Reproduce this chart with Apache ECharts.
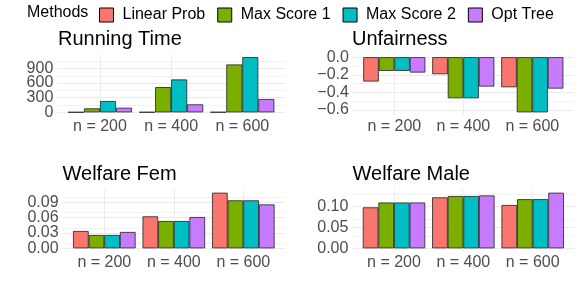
<!DOCTYPE html>
<html><head><meta charset="utf-8">
<script src="https://cdn.jsdelivr.net/npm/echarts@6/dist/echarts.min.js"></script>
<style>html,body{margin:0;padding:0;background:#fff}#c{width:579px;height:297px}</style>
</head><body><div id="c"></div>
<script>
// ---- data ----
const methods = ['Linear Prob', 'Max Score 1', 'Max Score 2', 'Opt Tree'];
const sizes = ['n = 200', 'n = 400', 'n = 600'];
const panelTitles = ['Running Time', 'Unfairness', 'Welfare Fem', 'Welfare Male'];
// rows = methods, columns = sizes
const runningTime = [[3, 4, 5], [82, 518, 982], [232, 675, 1132], [95, 164, 273]];
const unfairness = [[-0.277, -0.194, -0.342], [-0.156, -0.467, -0.627], [-0.156, -0.467, -0.627], [-0.175, -0.334, -0.357]];
const welfareFem = [[0.0339, 0.0626, 0.109], [0.0261, 0.0535, 0.094], [0.0261, 0.0535, 0.094], [0.032, 0.0613, 0.086]];
const welfareMale = [[0.0984, 0.1224, 0.104], [0.110, 0.1256, 0.118], [0.110, 0.1256, 0.118], [0.110, 0.127, 0.1336]];
// tick labels
const runningTimeTicks = [0, 300, 600, 900];
const unfairnessTicks = [0, -0.2, -0.4, -0.6];
const welfareFemTicks = [0, 0.03, 0.06, 0.09];
const welfareMaleTicks = [0, 0.05, 0.10];
// minor grid positions
const runningTimeMinor = [150, 450, 750, 1050];
const unfairnessMinor = [-0.1, -0.3, -0.5];
const welfareFemMinor = [0.015, 0.045, 0.075, 0.105];
const welfareMaleMinor = [0.025, 0.075, 0.125];

// ---- style / layout ----
const colors = ['#F8766D', '#7CAE00', '#00BFC4', '#C77CFF'];
const FONT = 'Liberation Sans, Arial, Helvetica, sans-serif';
const panels = [
  { title: panelTitles[0], rows: runningTime, ticks: runningTimeTicks, minor: runningTimeMinor, dec: 0,
    grid: { left: 57.3, top: 54.4, width: 227.7, height: 60.7 }, tpos: { left: 58, top: 29.5 } },
  { title: panelTitles[1], rows: unfairness, ticks: unfairnessTicks, minor: unfairnessMinor, dec: 1,
    grid: { left: 352.9, top: 54.4, width: 220.8, height: 60.7 }, tpos: { left: 352, top: 29.5 } },
  { title: panelTitles[2], rows: welfareFem, ticks: welfareFemTicks, minor: welfareFemMinor, dec: 2,
    grid: { left: 62.6, top: 189.9, width: 222.4, height: 61.2 }, tpos: { left: 62.5, top: 164.5 } },
  { title: panelTitles[3], rows: welfareMale, ticks: welfareMaleTicks, minor: welfareMaleMinor, dec: 2,
    grid: { left: 352.4, top: 189.9, width: 221.9, height: 61.2 }, tpos: { left: 352.5, top: 164.5 } }
];

function limits(rows) {
  let lo = 0, hi = 0;
  rows.forEach(r => r.forEach(v => { lo = Math.min(lo, v); hi = Math.max(hi, v); }));
  const pad = (hi - lo) * 0.05;
  return [lo - pad, hi + pad];
}
function fmt(dec) {
  return v => {
    const s = Math.abs(v).toFixed(dec);
    return (v < -1e-9 ? '\u2212' : '') + s;
  };
}

const grids = [], xAxes = [], yAxes = [], series = [];
const titles = [{ text: 'Methods', left: 27, top: 5, padding: 0,
  textStyle: { fontSize: 16, fontWeight: 'normal', color: '#000', fontFamily: FONT } }];

function yAxisFor(pi, lim, values, dec) {
  return {
    type: 'value', gridIndex: pi, min: lim[0], max: lim[1], position: 'left', offset: 0,
    axisLine: { show: false }, axisTick: { show: false }, splitLine: { show: false },
    axisLabel: { customValues: values, formatter: fmt(dec),
      showMinLabel: true, showMaxLabel: true, hideOverlap: false,
      color: '#4D4D4D', fontSize: 16, margin: 4, fontFamily: FONT }
  };
}

panels.forEach((p, pi) => {
  grids.push(Object.assign({ containLabel: false }, p.grid));
  const lim = limits(p.rows);
  xAxes.push({
    type: 'value', gridIndex: pi, min: 0.4, max: 3.6,
    axisLine: { show: false }, axisTick: { show: false }, splitLine: { show: false },
    axisLabel: { customValues: [1, 2, 3], formatter: v => sizes[Math.round(v) - 1],
      showMinLabel: true, showMaxLabel: true, hideOverlap: false,
      color: '#4D4D4D', fontSize: 16, margin: 3, fontFamily: FONT }
  });
  // tick labels split across two coincident axes so none get dropped for overlap
  const mainIdx = yAxes.length;
  yAxes.push(yAxisFor(pi, lim, p.ticks.filter((v, i) => i % 2 === 0), p.dec));
  yAxes.push(yAxisFor(pi, lim, p.ticks.filter((v, i) => i % 2 === 1), p.dec));
  titles.push({ text: p.title, left: p.tpos.left, top: p.tpos.top, padding: 0,
    textStyle: { fontSize: 20, fontWeight: 'normal', color: '#000', fontFamily: FONT } });
  // grid lines drawn through the axes' scales
  series.push({
    type: 'line', xAxisIndex: pi, yAxisIndex: mainIdx, data: [], silent: true,
    markLine: {
      silent: true, symbol: 'none', animation: false, z: 1, label: { show: false },
      lineStyle: { type: 'solid', color: '#EBEBEB', width: 1 },
      emphasis: { disabled: true },
      data: [
        ...p.minor.map(v => ({ yAxis: v, lineStyle: { type: 'solid', color: '#F3F3F3', width: 1 } })),
        ...p.ticks.map(v => ({ yAxis: v, lineStyle: { type: 'solid', color: '#EBEBEB', width: 1 } })),
        ...[1, 2, 3].map(v => ({ xAxis: v, lineStyle: { type: 'solid', color: '#EBEBEB', width: 1 } }))
      ]
    }
  });
  methods.forEach((m, mi) => {
    series.push({
      type: 'bar', name: m, xAxisIndex: pi, yAxisIndex: mainIdx, z: 3,
      barWidth: '22.5%', barGap: '0%',
      data: sizes.map((s, si) => [si + 1, p.rows[mi][si]]),
      itemStyle: { color: colors[mi], borderColor: '#222', borderWidth: 0.8 }
    });
  });
});

const chart = echarts.init(document.getElementById('c'), null, { renderer: 'canvas' });
chart.setOption({
  animation: false,
  textStyle: { fontFamily: FONT },
  title: titles,
  legend: {
    data: methods, left: 99, top: 7, padding: 0, itemWidth: 14, itemHeight: 14, itemGap: 12,
    icon: 'rect', selectedMode: false,
    itemStyle: { borderColor: '#000', borderWidth: 1 },
    textStyle: { fontSize: 16, color: '#000', fontFamily: FONT, padding: [0, 0, 0, 4] }
  },
  grid: grids, xAxis: xAxes, yAxis: yAxes, series: series
});
</script></body></html>
